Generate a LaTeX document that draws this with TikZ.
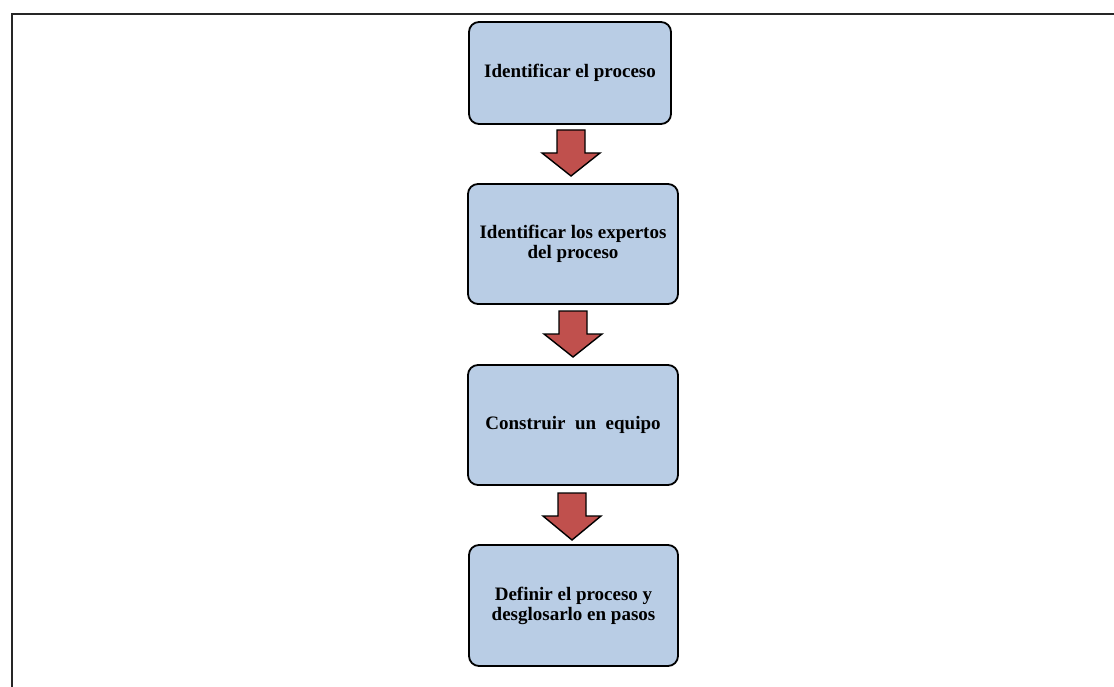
\documentclass[tikz,border=0pt]{standalone}
\usepackage{fontspec}
\setmainfont{Liberation Serif}
\definecolor{boxblue}{HTML}{B9CDE5}
\definecolor{arrred}{HTML}{C0504D}
\tikzset{
  stepbox/.style={draw=black, line width=1.8pt, rounded corners=10pt, fill=boxblue,
    font=\bfseries\fontsize{19}{20}\selectfont, align=center, inner sep=0pt},
  blockarrow/.style={draw=black, line width=1.4pt, fill=arrred, line join=miter}
}
\begin{document}
\begin{tikzpicture}[x=1pt,y=-1pt]
\useasboundingbox (0,0) rectangle (1114,687);
% frame
\draw[line width=2.2pt, draw=black!85] (1114,14) -- (12,14) -- (12,687);
% boxes
\node[stepbox, minimum width=202pt, minimum height=102pt] (b1) at (570,73) {Identificar el proceso};
\node[stepbox, minimum width=210pt, minimum height=120pt] (b2) at (573,244) {Identificar los expertos\\del proceso};
\node[stepbox, minimum width=210pt, minimum height=120pt] (b3) at (573,425) {Construir\ \ un\ \ equipo};
\node[stepbox, minimum width=209pt, minimum height=121pt] (b4) at (573.5,605.5) {Definir el proceso y\\desglosarlo en pasos};
% block arrows
\newcommand{\blockarr}[3]{% cx, top, tip
  \draw[blockarrow] (#1-14,#2) -- (#1+14,#2) -- (#1+14,#2+23) -- (#1+29,#2+23) -- (#1,#3) -- (#1-29,#2+23) -- (#1-14,#2+23) -- cycle;}
\blockarr{571}{130}{176}
\blockarr{573}{311}{357}
\blockarr{572}{493}{540}
\end{tikzpicture}
\end{document}
